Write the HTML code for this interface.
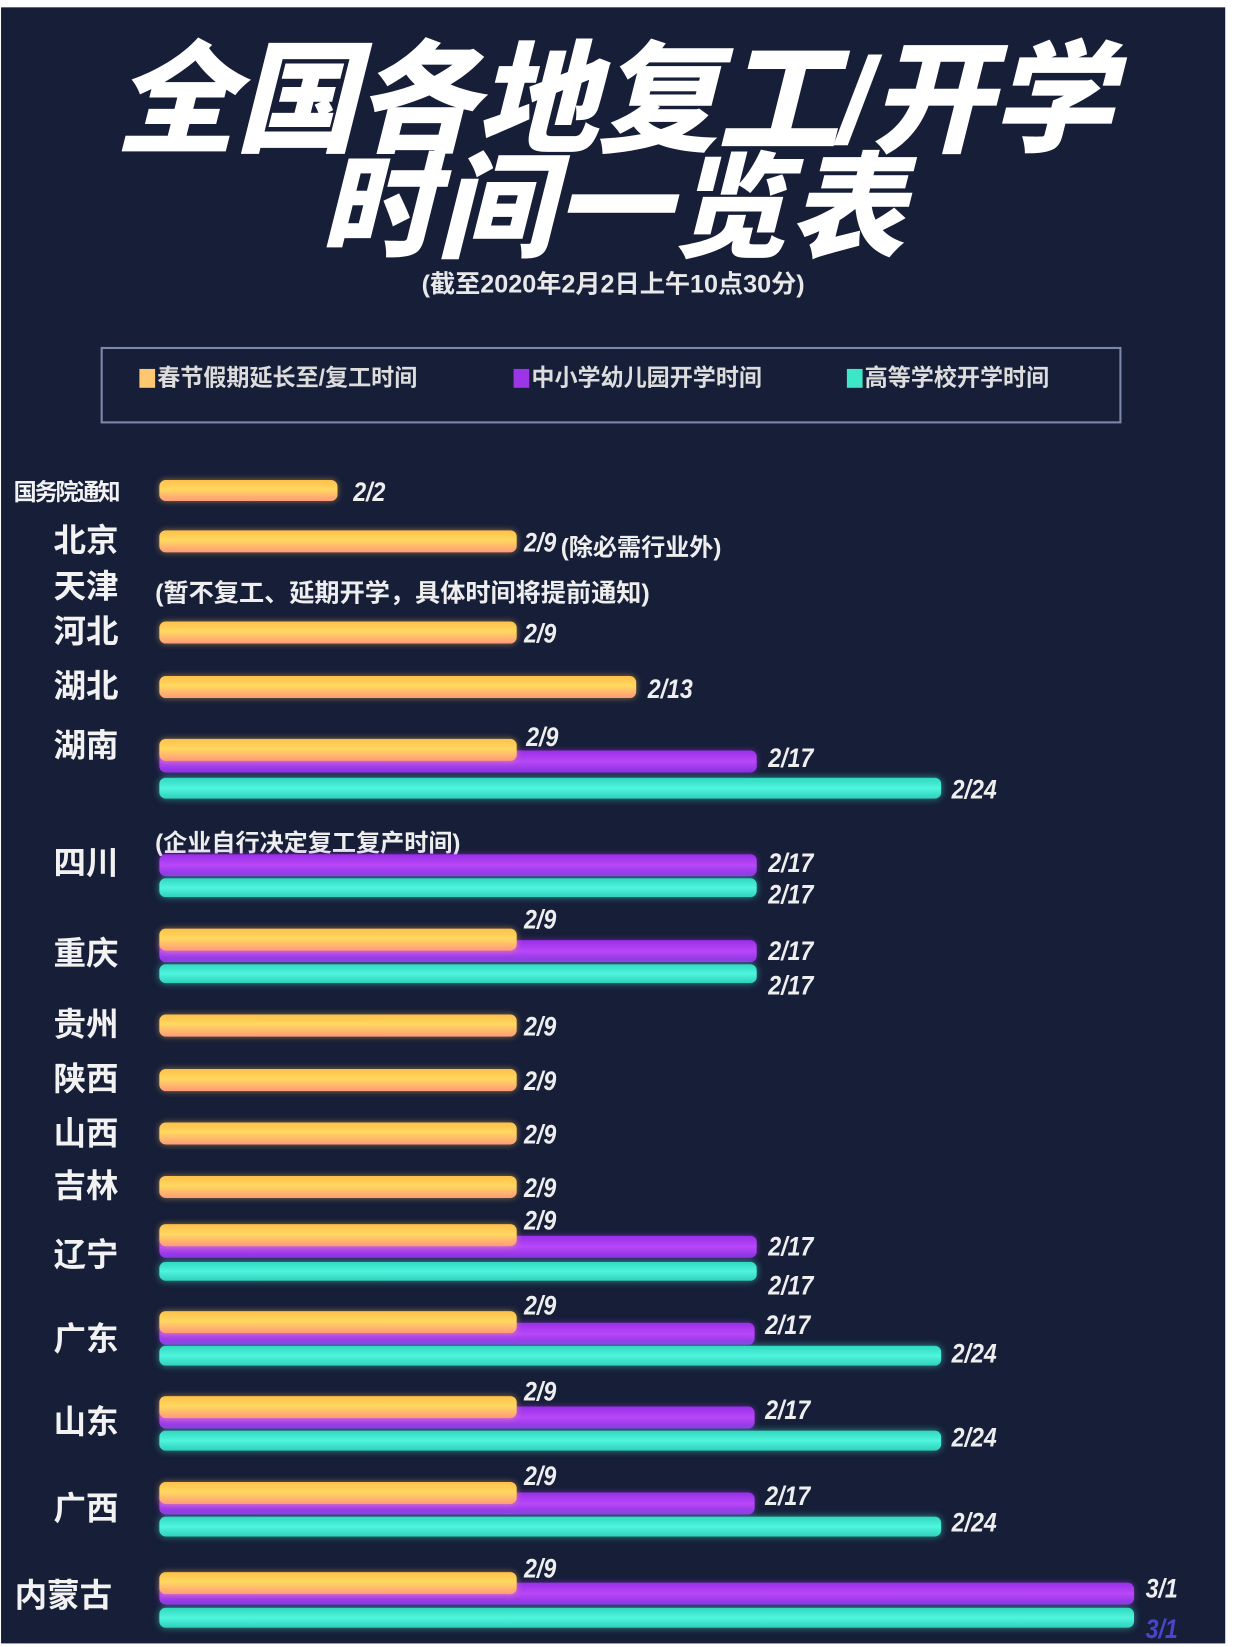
<!DOCTYPE html>
<html><head><meta charset="utf-8"><style>
html,body{margin:0;padding:0;background:#fff;width:1242px;height:1646px;overflow:hidden}
#wrap{position:absolute;left:0;top:0;width:1185px;height:1571px;transform:scale(1.0481);transform-origin:0 0}
#bg{position:absolute;left:1px;top:7px;width:1168px;height:1561px;background:#161e38}
.t{position:absolute;font-family:"Liberation Sans","Noto Sans CJK SC",sans-serif;color:#fff;font-weight:bold;white-space:nowrap}
.lab{position:absolute;right:1072px;font-family:"Liberation Sans","Noto Sans CJK SC",sans-serif;color:#f2f2f2;font-weight:bold;font-size:31px;line-height:30px;white-space:nowrap}
.b{position:absolute;left:152px;border-radius:6px}
.o{background:linear-gradient(#ffc04a,#ffd860 45%,#ff9a7a);box-shadow:0 0 6px rgba(255,200,80,.5)}
.p{background:linear-gradient(#9a2ee8,#b848f8 50%,#8a30e0);box-shadow:0 0 6px rgba(170,60,240,.5)}
.c{background:linear-gradient(#30d8c0,#4ff5dc 50%,#2ed0bc);box-shadow:0 0 7px rgba(70,240,210,.55)}
.v{position:absolute;font-family:"Liberation Sans","Noto Sans CJK SC",sans-serif;color:#eee;font-weight:bold;font-size:26px;line-height:26px;font-style:italic;transform:scaleX(.85);transform-origin:0 0;white-space:nowrap}
</style></head><body><div id="wrap">
<div id="bg"></div>
<div class="t" style="left:0;width:1170px;text-align:center;top:38px;font-size:116px;line-height:116px;letter-spacing:-1px;font-weight:900;font-style:italic">全国各地复工/开学</div>
<div class="t" style="left:0;width:1170px;text-align:center;top:145px;font-size:110px;line-height:110px;letter-spacing:2px;font-weight:900;font-style:italic">时间一览表</div>
<div class="t" style="left:0;width:1170px;text-align:center;top:258px;font-size:24px;line-height:28px;color:#e8e8e8">(截至2020年2月2日上午10点30分)</div>
<div style="position:absolute;left:96px;top:331px;width:970px;height:69px;border:2px solid #7c88a8"></div>
<div style="position:absolute;left:133px;top:352px;width:15px;height:18px;background:#ffc870"></div>
<div class="t" style="left:150px;top:348px;font-size:22px;line-height:26px;color:#ddd">春节假期延长至/复工时间</div>
<div style="position:absolute;left:490px;top:352px;width:15px;height:18px;background:#9b35e6"></div>
<div class="t" style="left:507px;top:348px;font-size:22px;line-height:26px;color:#ddd">中小学幼儿园开学时间</div>
<div style="position:absolute;left:808px;top:352px;width:15px;height:18px;background:#3ee6c8"></div>
<div class="t" style="left:825px;top:348px;font-size:22px;line-height:26px;color:#ddd">高等学校开学时间</div>

<div class="lab" style="top:455px;font-size:22px;letter-spacing:-2px">国务院通知</div>
<div class="b o" style="top:458px;width:170px;height:20px"></div><div class="v" style="left:337px;top:456px">2/2</div>

<div class="lab" style="top:501px">北京</div>
<div class="b o" style="top:506px;width:341px;height:21px"></div><div class="v" style="left:500px;top:504px">2/9</div>
<div class="t" style="left:535px;top:503px;font-size:23px;color:#eee">(除必需行业外)</div>

<div class="lab" style="top:545px">天津</div>
<div class="t" style="left:148px;top:546px;font-size:24px;color:#eee">(暂不复工、延期开学，具体时间将提前通知)</div>

<div class="lab" style="top:588px">河北</div>
<div class="b o" style="top:593px;width:341px;height:21px"></div><div class="v" style="left:500px;top:591px">2/9</div>

<div class="lab" style="top:640px">湖北</div>
<div class="b o" style="top:645px;width:455px;height:21px"></div><div class="v" style="left:618px;top:644px">2/13</div>

<div class="lab" style="top:697px">湖南</div>
<div class="b p" style="top:716px;width:570px;height:21px"></div>
<div class="b o" style="top:705px;width:341px;height:21px"></div>
<div class="b c" style="top:742px;width:746px;height:20px"></div>
<div class="v" style="left:502px;top:690px">2/9</div><div class="v" style="left:733px;top:710px">2/17</div><div class="v" style="left:908px;top:740px">2/24</div>

<div class="t" style="left:148px;top:785px;font-size:23px;color:#eee">(企业自行决定复工复产时间)</div>
<div class="lab" style="top:809px">四川</div>
<div class="b p" style="top:815px;width:570px;height:21px"></div>
<div class="b c" style="top:838px;width:570px;height:18px"></div>
<div class="v" style="left:733px;top:810px">2/17</div><div class="v" style="left:733px;top:840px">2/17</div>

<div class="lab" style="top:895px">重庆</div>
<div class="b p" style="top:897px;width:570px;height:21px"></div>
<div class="b o" style="top:886px;width:341px;height:21px"></div>
<div class="b c" style="top:920px;width:570px;height:18px"></div>
<div class="v" style="left:500px;top:864px">2/9</div><div class="v" style="left:733px;top:894px">2/17</div><div class="v" style="left:733px;top:927px">2/17</div>

<div class="lab" style="top:963px">贵州</div>
<div class="b o" style="top:968px;width:341px;height:21px"></div><div class="v" style="left:500px;top:966px">2/9</div>
<div class="lab" style="top:1015px">陕西</div>
<div class="b o" style="top:1020px;width:341px;height:21px"></div><div class="v" style="left:500px;top:1018px">2/9</div>
<div class="lab" style="top:1067px">山西</div>
<div class="b o" style="top:1071px;width:341px;height:21px"></div><div class="v" style="left:500px;top:1069px">2/9</div>
<div class="lab" style="top:1117px">吉林</div>
<div class="b o" style="top:1122px;width:341px;height:21px"></div><div class="v" style="left:500px;top:1120px">2/9</div>

<div class="lab" style="top:1183px">辽宁</div>
<div class="b p" style="top:1179px;width:570px;height:21px"></div>
<div class="b o" style="top:1168px;width:341px;height:21px"></div>
<div class="b c" style="top:1204px;width:570px;height:18px"></div>
<div class="v" style="left:500px;top:1151px">2/9</div><div class="v" style="left:733px;top:1176px">2/17</div><div class="v" style="left:733px;top:1213px">2/17</div>

<div class="lab" style="top:1263px">广东</div>
<div class="b p" style="top:1262px;width:568px;height:21px"></div>
<div class="b o" style="top:1251px;width:341px;height:21px"></div>
<div class="b c" style="top:1284px;width:746px;height:19px"></div>
<div class="v" style="left:500px;top:1232px">2/9</div><div class="v" style="left:730px;top:1251px">2/17</div><div class="v" style="left:908px;top:1278px">2/24</div>

<div class="lab" style="top:1342px">山东</div>
<div class="b p" style="top:1342px;width:568px;height:21px"></div>
<div class="b o" style="top:1332px;width:341px;height:21px"></div>
<div class="b c" style="top:1365px;width:746px;height:19px"></div>
<div class="v" style="left:500px;top:1314px">2/9</div><div class="v" style="left:730px;top:1332px">2/17</div><div class="v" style="left:908px;top:1358px">2/24</div>

<div class="lab" style="top:1425px">广西</div>
<div class="b p" style="top:1424px;width:568px;height:21px"></div>
<div class="b o" style="top:1414px;width:341px;height:21px"></div>
<div class="b c" style="top:1447px;width:746px;height:19px"></div>
<div class="v" style="left:500px;top:1395px">2/9</div><div class="v" style="left:730px;top:1414px">2/17</div><div class="v" style="left:908px;top:1439px">2/24</div>

<div class="lab" style="top:1508px;left:14px;right:auto">内蒙古</div>
<div class="b p" style="top:1510px;width:930px;height:21px"></div>
<div class="b o" style="top:1500px;width:341px;height:21px"></div>
<div class="b c" style="top:1534px;width:930px;height:19px"></div>
<div class="v" style="left:500px;top:1483px">2/9</div><div class="v" style="left:1093px;top:1502px">3/1</div><div class="v" style="left:1093px;top:1541px;color:#4a44c8">3/1</div>
</div></body></html>
